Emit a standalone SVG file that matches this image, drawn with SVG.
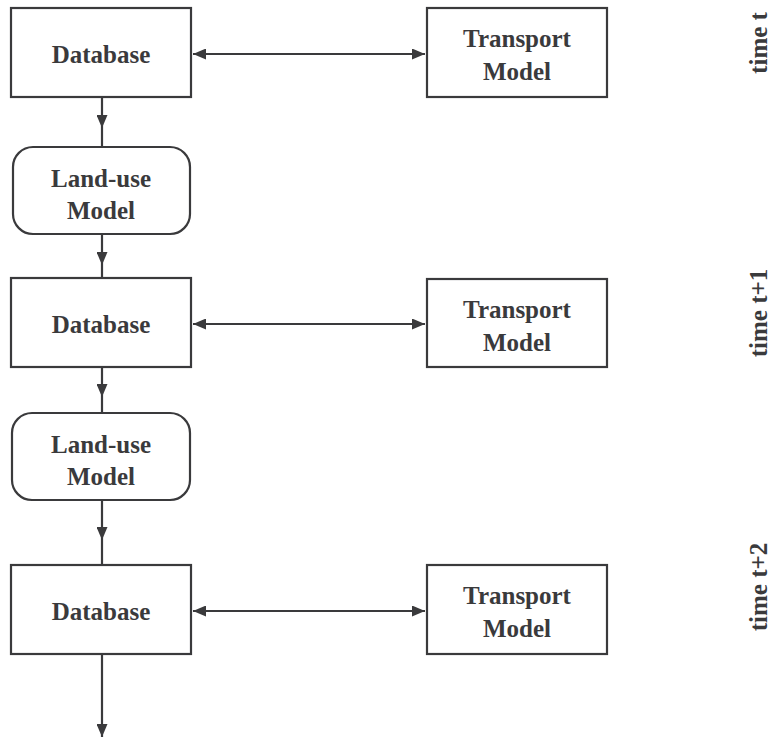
<svg xmlns="http://www.w3.org/2000/svg" width="774" height="738" viewBox="0 0 774 738">
<style>
.box{fill:#fff;stroke:#3a3a3c;stroke-width:2.2}
.lbl{font-family:"Liberation Serif","Times New Roman",serif;font-weight:bold;font-size:25px;fill:#3a3a3c;text-anchor:middle}
.con{fill:none;stroke:#3a3a3c;stroke-width:2.2}
</style>
<defs>
<marker id="ah" viewBox="0 0 13 11" refX="13" refY="5.5" markerWidth="13" markerHeight="11" markerUnits="userSpaceOnUse" orient="auto-start-reverse">
<path d="M0,0 L13,5.5 L0,11 Z" fill="#3a3a3c"/>
</marker>
</defs>
<g id="connectors">
<path class="con" d="M102,97 L102,128 L102,147" marker-mid="url(#ah)"/>
<path class="con" d="M102,234 L102,265 L102,278" marker-mid="url(#ah)"/>
<path class="con" d="M102,367 L102,397 L102,413" marker-mid="url(#ah)"/>
<path class="con" d="M102,500 L102,540 L102,565" marker-mid="url(#ah)"/>
<path class="con" d="M102,654 L102,737" marker-end="url(#ah)"/>
<path class="con" d="M193,54 L425,54" marker-start="url(#ah)" marker-end="url(#ah)"/>
<path class="con" d="M193,324 L425,324" marker-start="url(#ah)" marker-end="url(#ah)"/>
<path class="con" d="M193,611 L425,611" marker-start="url(#ah)" marker-end="url(#ah)"/>
</g>
<g id="db1"><rect class="box" x="11" y="8" width="180" height="89"/><text class="lbl" x="101" y="63">Database</text></g>
<g id="tm1"><rect class="box" x="427" y="8" width="180" height="89"/><text class="lbl" x="517" y="47">Transport</text><text class="lbl" x="517" y="80">Model</text></g>
<g id="lu1"><rect class="box" x="13" y="147" width="177" height="87" rx="20"/><text class="lbl" x="101" y="187">Land-use</text><text class="lbl" x="101" y="219">Model</text></g>
<g id="db2"><rect class="box" x="11" y="278" width="180" height="89"/><text class="lbl" x="101" y="333">Database</text></g>
<g id="tm2"><rect class="box" x="427" y="279" width="180" height="88"/><text class="lbl" x="517" y="318">Transport</text><text class="lbl" x="517" y="351">Model</text></g>
<g id="lu2"><rect class="box" x="12" y="413" width="178" height="87" rx="20"/><text class="lbl" x="101" y="453">Land-use</text><text class="lbl" x="101" y="485">Model</text></g>
<g id="db3"><rect class="box" x="11" y="565" width="180" height="89"/><text class="lbl" x="101" y="620">Database</text></g>
<g id="tm3"><rect class="box" x="427" y="565" width="180" height="89"/><text class="lbl" x="517" y="604">Transport</text><text class="lbl" x="517" y="637">Model</text></g>
<g id="time-labels">
<text class="lbl" transform="translate(767,43) rotate(-90)">time t</text>
<text class="lbl" transform="translate(767,313) rotate(-90)">time t+1</text>
<text class="lbl" transform="translate(767,587) rotate(-90)">time t+2</text>
</g>
</svg>
